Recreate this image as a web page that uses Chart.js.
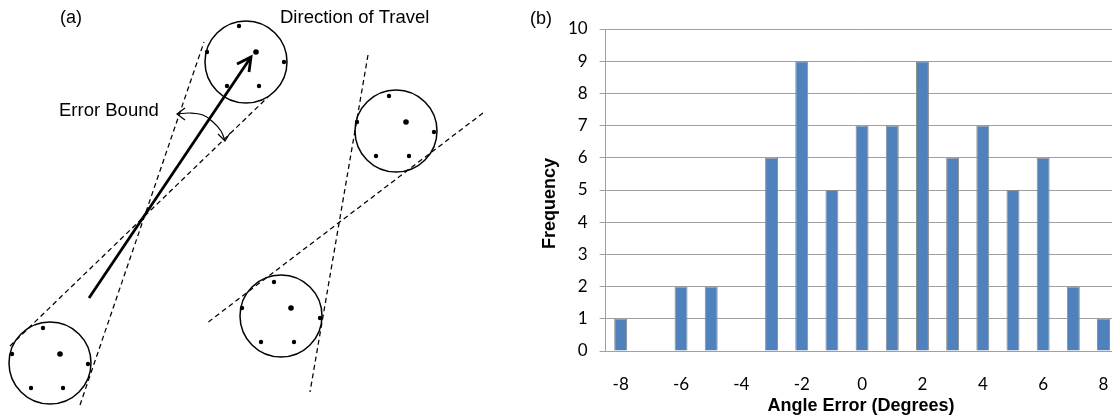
<!DOCTYPE html>
<html>
<head>
<meta charset="utf-8">
<script src="https://cdn.jsdelivr.net/npm/chart.js@4.4.1/dist/chart.umd.min.js"></script>
<style>
  html, body { margin: 0; padding: 0; background: #fff; width: 1112px; height: 420px; overflow: hidden; position: relative; }
  #sketch { position: absolute; left: 0; top: 0; }
  #hist { position: absolute; left: 520px; top: 0; }
</style>
</head>
<body>
<canvas id="sketch" width="520" height="420"></canvas>
<canvas id="hist" width="620" height="420"></canvas>
<script>
// ---- (a) sketch: sensor clusters, tangent bounds and direction of travel ----
const clusterCentres = [[246, 62], [50, 363], [396, 131], [281, 316]];
const clusterDots = [
  [239, 26], [207, 52], [284, 62], [227, 86], [259, 86],
  [43, 328], [12, 354], [88, 364], [31, 388], [63, 388],
  [389, 96], [357, 122], [434, 132], [376, 156], [409, 156],
  [274, 282], [242, 308], [320, 318], [261, 342], [294, 342]
];
const clusterMainDots = [[256, 52], [60, 354], [406, 122], [291, 308]];
const boundLineA = [[10, 346], [268, 97]];
const boundLineB = [[80, 405], [204, 42]];
const boundLineC = [[368, 55], [310, 392]];
const boundLineD = [[483, 113], [207, 323]];
const travelShaft = [[89, 298], [251, 57]];
const travelHead = [[237, 64], [251, 57], [249, 72]];
const errorArc = [[177, 114], [190, 113], [203, 115], [213, 122], [221, 131], [225, 141]];
const errorArcHeadStart = [[185, 108], [177, 114], [185, 120]];
const errorArcHeadEnd = [[218, 134], [225, 141], [230, 133]];

// ---- (b) histogram of angle error ----
const angleCategories = ['-8', '-7', '-6', '-5', '-4', '-3', '-2', '-1', '0', '1', '2', '3', '4', '5', '6', '7', '8'];
const frequency = [1, 0, 2, 2, 0, 6, 9, 5, 7, 7, 9, 6, 7, 5, 6, 2, 1];
const angleTickLabels = ['-8', '', '-6', '', '-4', '', '-2', '', '0', '', '2', '', '4', '', '6', '', '8'];
const frequencyMin = 0, frequencyMax = 10, frequencyStep = 1;

const ARIAL = "'Liberation Sans', Arial, sans-serif";
const LATO = "Lato, 'Open Sans', sans-serif";

const pts = arr => arr.map(([x, y]) => ({ x, y }));

// Draws free text labels; 'data' labels are placed through the chart scales.
const textLabels = {
  id: 'textLabels',
  afterDraw(chart, args, opts) {
    const ctx = chart.ctx;
    (opts.items || []).forEach(it => {
      let x = it.x, y = it.y;
      if (it.data) {
        x = chart.scales.x.getPixelForValue(it.x);
        y = chart.scales.y.getPixelForValue(it.y);
      }
      ctx.save();
      ctx.font = it.font;
      ctx.fillStyle = it.color || '#000';
      ctx.textAlign = it.align || 'left';
      ctx.textBaseline = 'alphabetic';
      ctx.translate(x, y);
      if (it.rotate) ctx.rotate(it.rotate);
      ctx.fillText(it.text, 0, 0);
      ctx.restore();
    });
  }
};

const lineSet = (data, extra) => Object.assign({
  type: 'scatter', data: pts(data), showLine: true, pointRadius: 0,
  borderColor: '#000', borderWidth: 1, fill: false, tension: 0
}, extra);

const DASH = { borderDash: [5, 3.5], borderWidth: 1.25 };

new Chart(document.getElementById('sketch'), {
  type: 'scatter',
  data: {
    datasets: [
      lineSet(boundLineA, DASH),
      lineSet(boundLineB, DASH),
      lineSet(boundLineC, DASH),
      lineSet(boundLineD, DASH),
      {
        data: pts(clusterCentres), pointStyle: 'circle', pointRadius: 41,
        pointBorderWidth: 1.5, pointBorderColor: '#000', pointBackgroundColor: 'rgba(0,0,0,0)'
      },
      { data: pts(clusterDots), pointRadius: 2.2, pointBorderWidth: 0, pointBackgroundColor: '#000' },
      { data: pts(clusterMainDots), pointRadius: 2.8, pointBorderWidth: 0, pointBackgroundColor: '#000' },
      lineSet(travelShaft, { borderWidth: 2.8 }),
      lineSet(travelHead, { borderWidth: 2.8, borderJoinStyle: 'miter' }),
      lineSet(errorArc, { borderWidth: 1.2, tension: 0.4 }),
      lineSet(errorArcHeadStart, { borderWidth: 1.2 }),
      lineSet(errorArcHeadEnd, { borderWidth: 1.2 })
    ]
  },
  options: {
    responsive: false, animation: false, events: [],
    layout: { padding: 0, autoPadding: false },
    scales: {
      x: { type: 'linear', min: 0, max: 520, display: false },
      y: { type: 'linear', min: 0, max: 420, reverse: true, display: false }
    },
    elements: { point: { hoverRadius: 0 } },
    plugins: {
      legend: { display: false }, tooltip: { enabled: false },
      textLabels: {
        items: [
          { text: '(a)', x: 60, y: 23, data: true, font: '18px ' + ARIAL },
          { text: 'Direction of Travel', x: 280, y: 23, data: true, font: '18.5px ' + ARIAL },
          { text: 'Error Bound', x: 59, y: 116, data: true, font: '18.5px ' + ARIAL }
        ]
      }
    },
    datasets: { scatter: { clip: false } }
  },
  plugins: [textLabels]
});

const GRID = '#a0a0a0';

new Chart(document.getElementById('hist'), {
  type: 'bar',
  data: {
    labels: angleCategories,
    datasets: [{
      data: frequency,
      backgroundColor: '#4f81bd',
      borderColor: '#8c8c8c',
      borderWidth: 1,
      categoryPercentage: 1,
      barPercentage: 0.43
    }]
  },
  options: {
    responsive: false, animation: false, events: [],
    layout: { padding: { top: 29, right: 21.4, bottom: 0, left: 0 } },
    scales: {
      x: {
        grid: { display: false, drawTicks: false },
        border: { display: true, color: GRID, width: 1 },
        ticks: {
          autoSkip: false, maxRotation: 0, padding: 23, color: '#000',
          font: { family: LATO, size: 17 },
          callback: (v, i) => angleTickLabels[i]
        },
        afterFit: s => { s.height = 69; }
      },
      y: {
        min: frequencyMin, max: frequencyMax,
        grid: { color: GRID, lineWidth: 1, tickLength: 6, drawTicks: true },
        border: { display: true, color: GRID, width: 1 },
        ticks: { stepSize: frequencyStep, padding: 12, color: '#000', font: { family: LATO, size: 17 } },
        afterFit: s => { s.width = 85.6; }
      }
    },
    plugins: {
      legend: { display: false }, tooltip: { enabled: false },
      textLabels: {
        items: [
          { text: '(b)', x: 10, y: 24, font: '18px ' + ARIAL },
          { text: 'Frequency', x: 35, y: 203.5, align: 'center', rotate: -Math.PI / 2, font: 'bold 18px ' + ARIAL },
          { text: 'Angle Error (Degrees)', x: 341, y: 411, align: 'center', font: 'bold 18px ' + ARIAL }
        ]
      }
    }
  },
  plugins: [textLabels]
});
</script>
</body>
</html>
